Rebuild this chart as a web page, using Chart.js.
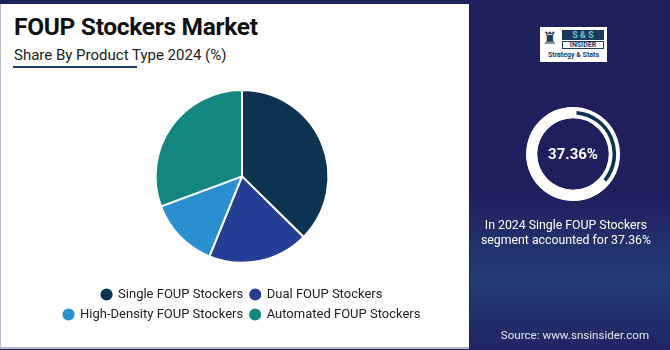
<!DOCTYPE html>
<html>
<head>
<meta charset="utf-8">
<script src="https://cdn.jsdelivr.net/npm/chart.js@4.4.1/dist/chart.umd.min.js"></script>
<style>
  html, body { margin: 0; padding: 0; }
  body {
    width: 670px; height: 350px; position: relative; overflow: hidden;
    font-family: Roboto, "Noto Sans", sans-serif;
    background: #1f1f5e;
  }
  #card {
    position: absolute; left: 0; top: 4px; width: 468px; height: 343px;
    background: #fff; border-left: 1px solid #b8b8c8; border-bottom: 2px solid #b8b8c8;
  }
  #side {
    position: absolute; left: 470px; top: 0; width: 200px; height: 350px;
    background: linear-gradient(to bottom, #1f1f5e 0%, #1f1f5e 55%, #253d75 80%, #1f2462 100%);
  }
  h1 {
    position: absolute; left: 14px; top: 12px; margin: 0;
    font-size: 24.5px; font-weight: 700; color: #111; letter-spacing: -0.3px;
  }
  #sub {
    position: absolute; left: 14px; top: 46px; font-size: 15px; color: #222;
  }
  #underline {
    position: absolute; left: 13px; top: 66px; width: 124px; height: 2px; background: #1d3d6e;
  }
  #pieWrap { position: absolute; left: 0; top: 86px; width: 484px; height: 245px; }
  #ringWrap { position: absolute; left: 526px; top: 107px; width: 94px; height: 94px; }
  #ringLabel {
    position: absolute; left: 526px; top: 107px; width: 94px; line-height: 94px;
    text-align: center; color: #fff; font-weight: 700; font-size: 15px;
  }
  #caption {
    position: absolute; left: 470px; top: 218px; width: 192px; text-align: center;
    color: #fff; font-size: 12.3px; line-height: 15px;
  }
  #source {
    position: absolute; left: 470px; top: 328px; width: 210px; text-align: center;
    color: #e4e6f2; font-size: 11.6px;
  }
  #logo {
    position: absolute; left: 540px; top: 27px; width: 67px; height: 35px; background: #fff;
  }
  #rook { position: absolute; left: 2px; top: 1px; font-family: "DejaVu Sans"; font-size: 17px; color: #1b3a5a; }
  #ss {
    position: absolute; left: 22px; top: 3px; width: 42px; height: 10px; background: #1b3a5a;
    color: #5fc6c6; font-size: 9px; font-weight: 700; line-height: 10px; text-align: center;
  }
  #ins {
    position: absolute; left: 22px; top: 14px; width: 42px; height: 8px; border: 1px solid #1b3a5a; box-sizing: border-box;
    color: #1b3a5a; font-size: 7px; font-weight: 700; line-height: 7px; text-align: center;
  }
  #strat {
    position: absolute; left: 0; top: 24px; width: 67px; text-align: center;
    color: #1b3a5a; font-size: 7px; font-weight: 700;
  }
</style>
</head>
<body>
<div id="card"></div>
<div id="side"></div>
<h1>FOUP Stockers Market</h1>
<div id="sub">Share By Product Type 2024 (%)</div>
<div id="underline"></div>
<div id="pieWrap"><canvas id="pie"></canvas></div>

<div id="logo">
  <div id="rook">♜</div>
  <div id="ss">S &amp; S</div>
  <div id="ins">INSIDER</div>
  <div id="strat">Strategy &amp; Stats</div>
</div>
<div id="ringWrap"><canvas id="ring"></canvas></div>
<div id="ringLabel">37.36%</div>
<div id="caption">In 2024 Single FOUP Stockers<br>segment accounted for 37.36%</div>
<div id="source">Source: www.snsinsider.com</div>

<script>
const categories = ["Single FOUP Stockers", "Dual FOUP Stockers", "High-Density FOUP Stockers", "Automated FOUP Stockers"];
const shares = [37.36, 18.8, 13.2, 30.64];
const sliceColors = ["#0c3452", "#253f95", "#2a8fce", "#138680"];

const highlightShare = 37.36;

new Chart(document.getElementById("pie"), {
  type: "pie",
  data: {
    labels: categories,
    datasets: [{
      data: shares,
      backgroundColor: sliceColors,
      borderColor: "#ffffff",
      borderWidth: 2,
    }],
  },
  options: {
    responsive: true,
    maintainAspectRatio: false,
    animation: false,
    // side padding keeps the legend to two items per row
    layout: { padding: { top: 3, bottom: 0, left: 50, right: 50 } },
    plugins: {
      tooltip: { enabled: false },
      legend: {
        position: "bottom",
        // empty title only adds a gap between pie and legend rows
        title: { display: true, text: "", font: { size: 1 }, padding: { top: 16, bottom: 0 } },
        labels: {
          usePointStyle: true,
          pointStyle: "circle",
          boxWidth: 10,
          boxHeight: 10,
          padding: 7,
          color: "#222",
          font: { family: "Roboto", size: 13 },
        },
      },
    },
  },
});

// ring on the right: highlighted share as a thin dark arc inside a white ring
new Chart(document.getElementById("ring"), {
  type: "doughnut",
  data: {
    labels: ["Single FOUP Stockers", "Other"],
    datasets: [{
      data: [highlightShare, 100 - highlightShare],
      backgroundColor: ["#0c3452", "#ffffff"],
      borderColor: "#ffffff",
      borderWidth: 3.5,
      borderAlign: "inner",
      borderRadius: 4,
    }],
  },
  options: {
    responsive: true,
    maintainAspectRatio: false,
    animation: false,
    cutout: "76%",
    plugins: { tooltip: { enabled: false }, legend: { display: false } },
  },
});
</script>
</body>
</html>
